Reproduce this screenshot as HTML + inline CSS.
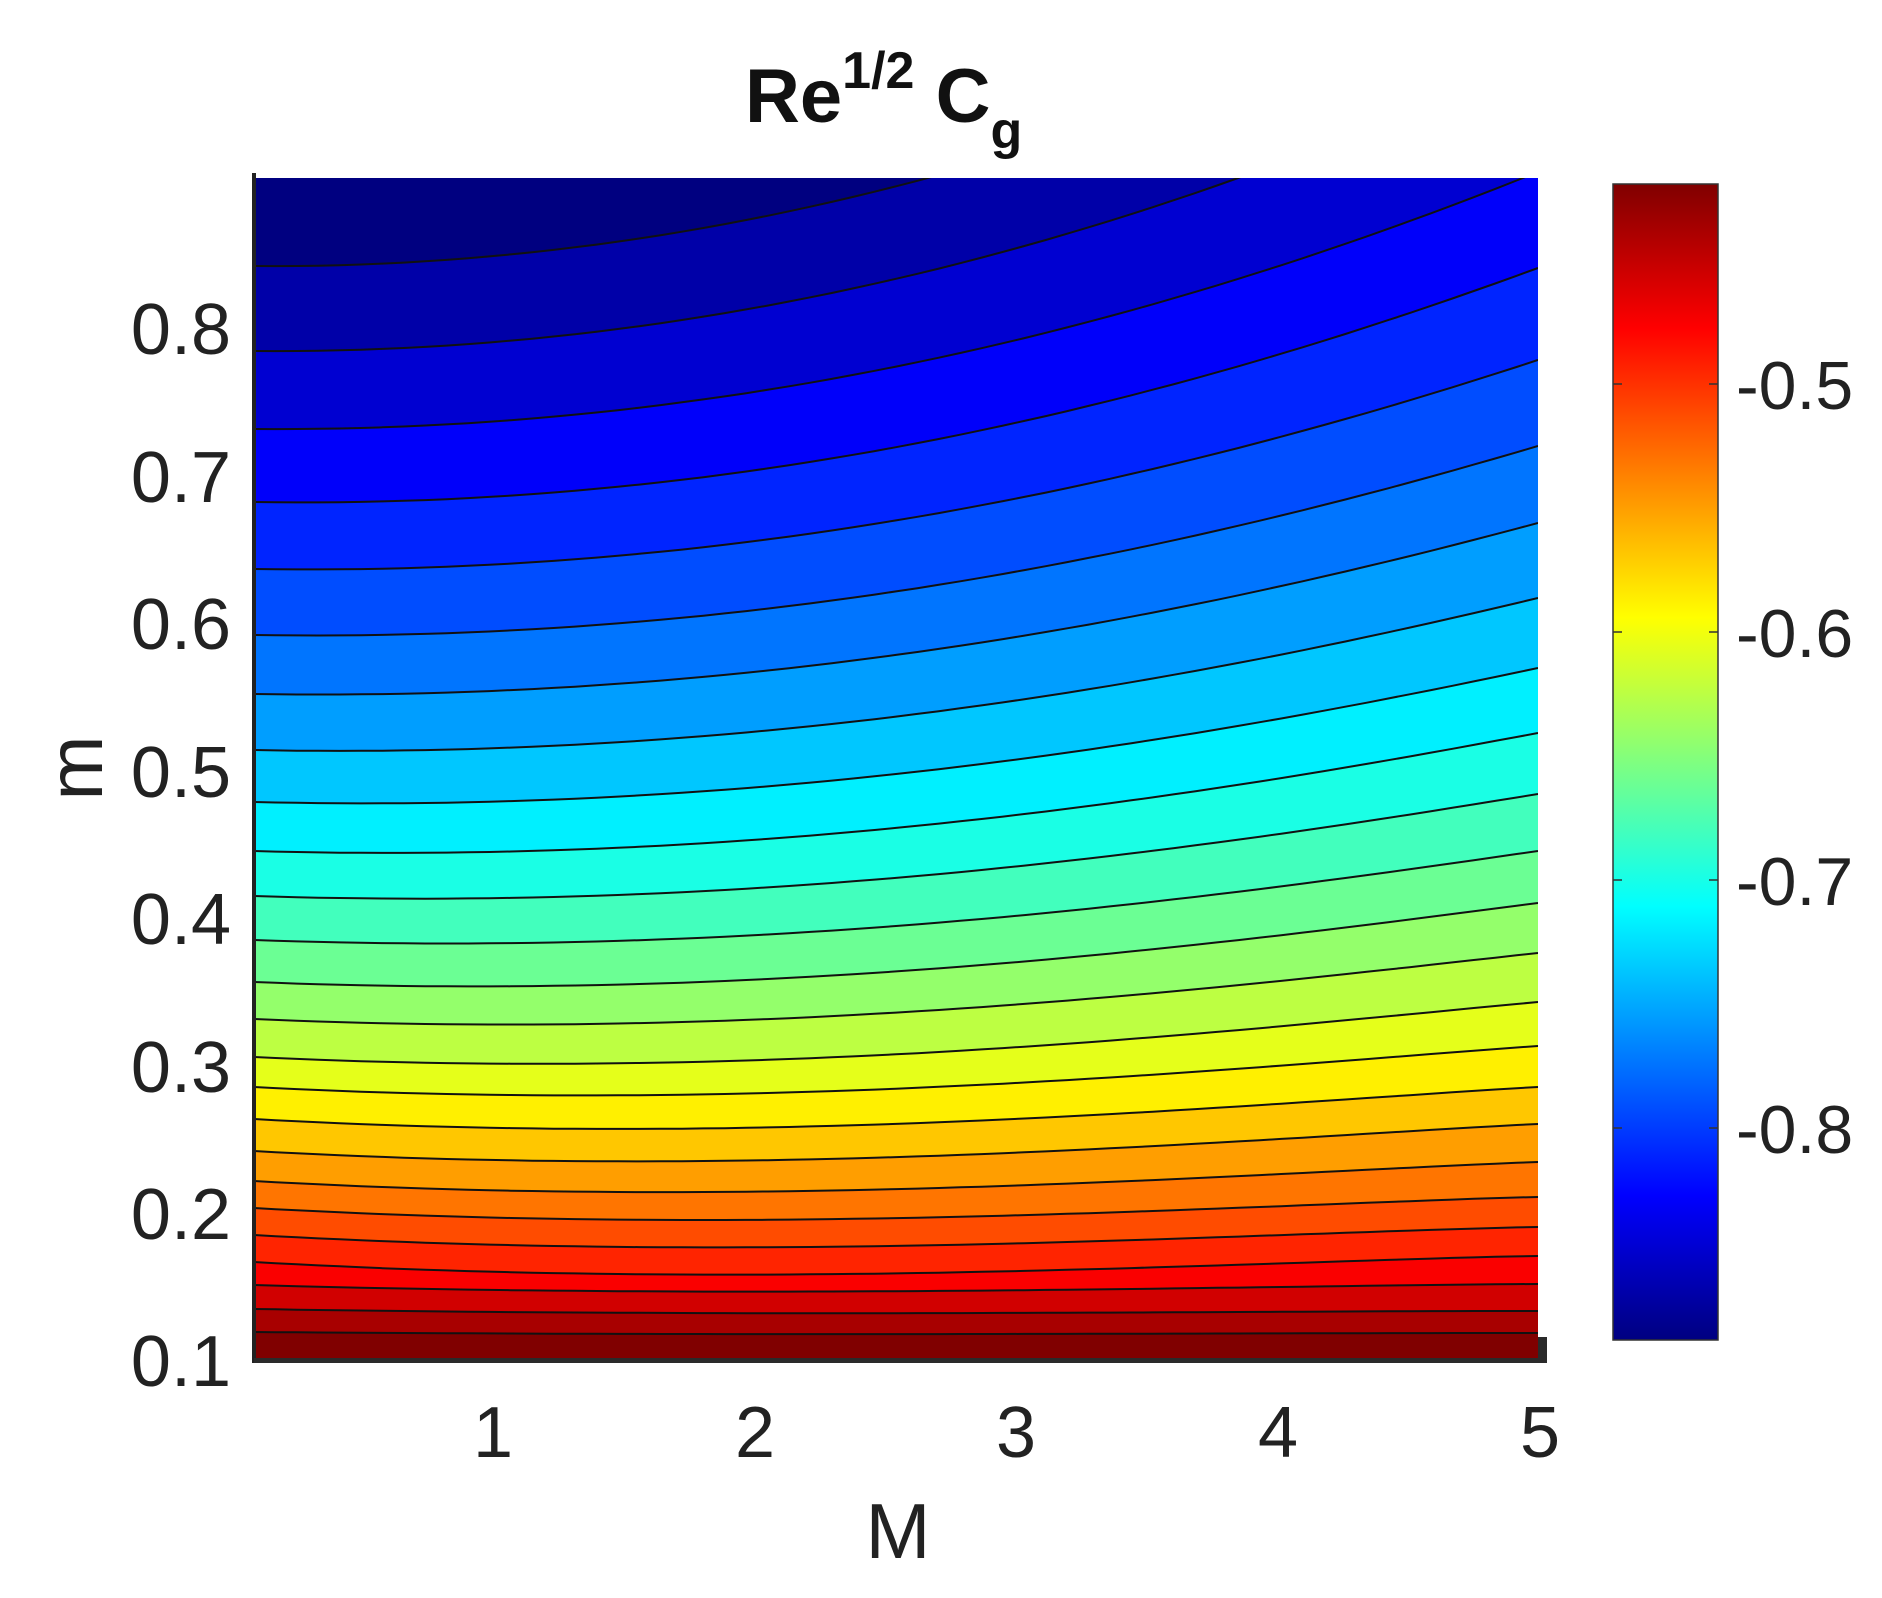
<!DOCTYPE html>
<html><head><meta charset="utf-8">
<style>
html,body{margin:0;padding:0;background:#fff;}
body{width:1882px;height:1598px;overflow:hidden;position:relative;font-family:"Liberation Sans",Arial,sans-serif;}
svg{position:absolute;left:0;top:0;}
</style></head>
<body>
<svg id="s" width="1882" height="1598" viewBox="0 0 1882 1598" xmlns="http://www.w3.org/2000/svg">
<defs>
<clipPath id="pc"><rect x="254" y="178" width="1284" height="1184"/></clipPath>
<linearGradient id="jet" x1="0" y1="1" x2="0" y2="0">
<stop offset="0" stop-color="#000080"/>
<stop offset="0.125" stop-color="#0000ff"/>
<stop offset="0.375" stop-color="#00ffff"/>
<stop offset="0.625" stop-color="#ffff00"/>
<stop offset="0.875" stop-color="#ff0000"/>
<stop offset="1" stop-color="#800000"/>
</linearGradient>
</defs>
<g id="plot" clip-path="url(#pc)"></g>
<rect x="252" y="173" width="4" height="1190" fill="#222"/>
<rect x="254" y="1358" width="1293" height="5" fill="#2a2a2a"/>
<rect x="1538" y="1337" width="9" height="26" fill="#2a2a2a"/>
<!-- colorbar -->
<rect x="1613" y="184" width="105" height="1156" fill="url(#jet)" stroke="#333" stroke-width="1.5"/>
<g stroke="#333" stroke-width="1.5">
<line x1="1613" y1="384" x2="1622" y2="384"/><line x1="1718" y1="384" x2="1709" y2="384"/>
<line x1="1613" y1="632" x2="1622" y2="632"/><line x1="1718" y1="632" x2="1709" y2="632"/>
<line x1="1613" y1="880" x2="1622" y2="880"/><line x1="1718" y1="880" x2="1709" y2="880"/>
<line x1="1613" y1="1128" x2="1622" y2="1128"/><line x1="1718" y1="1128" x2="1709" y2="1128"/>
</g>
<g font-family="Liberation Sans, Arial, sans-serif" font-size="68" fill="#222">
<text x="1736" y="409">-0.5</text>
<text x="1736" y="657">-0.6</text>
<text x="1736" y="905">-0.7</text>
<text x="1736" y="1153">-0.8</text>
</g>
<g font-family="Liberation Sans, Arial, sans-serif" font-size="72" fill="#222" text-anchor="end">
<text x="231" y="354">0.8</text>
<text x="231" y="502">0.7</text>
<text x="231" y="649">0.6</text>
<text x="231" y="797">0.5</text>
<text x="231" y="944">0.4</text>
<text x="231" y="1092">0.3</text>
<text x="231" y="1239">0.2</text>
<text x="231" y="1386">0.1</text>
</g>
<g font-family="Liberation Sans, Arial, sans-serif" font-size="72" fill="#222" text-anchor="middle">
<text x="493" y="1457">1</text>
<text x="755" y="1457">2</text>
<text x="1016" y="1457">3</text>
<text x="1278" y="1457">4</text>
<text x="1540" y="1457">5</text>
<text x="898" y="1558" font-size="78">M</text>
<text transform="translate(102,768) rotate(-90)" font-size="78">m</text>
</g>
<text x="745" y="122" font-family="Liberation Sans, Arial, sans-serif" font-weight="bold" font-size="76" fill="#111">Re<tspan font-size="52" dy="-34">1/2</tspan><tspan dy="34"> C</tspan><tspan font-size="52" dy="26">g</tspan></text>
</svg>
<script>
(function(){
var L=[266,351,429,502,569,635,694,750,802,851,896,940,982,1019,1057,1087,1119,1151,1181,1208,1235,1262,1285,1309,1332];
var R=[-60,55,172,268,360,446,523,598,668,733,794,851,903,953,1002,1046,1087,1124,1162,1197,1227,1256,1284,1311,1333];
function jet(v){function c(x){return Math.max(0,Math.min(1,x));}
var r=c(1.5-Math.abs(4*v-3)),g=c(1.5-Math.abs(4*v-2)),b=c(1.5-Math.abs(4*v-1));
return "rgb("+Math.round(r*255)+","+Math.round(g*255)+","+Math.round(b*255)+")";}
function dip(k){var d;if(k<3)d=2;else d=4+10*Math.max(0,Math.min(1,(k-6)/10));
if(k==22)d=7;if(k==23)d=4;if(k==24)d=2;return d;}
var x0=254,w=1284,N=60,ns="http://www.w3.org/2000/svg",g=document.getElementById("plot");
function pts(k){var a=[];for(var i=0;i<=N;i++){var t=i/N;var y=L[k]+(R[k]-L[k])*t*t+dip(k)*5.2*t*Math.pow(1-t,1.5);a.push([x0+w*t,y]);}return a;}
var nb=L.length;
var r0=document.createElementNS(ns,"rect");r0.setAttribute("x",250);r0.setAttribute("y",170);r0.setAttribute("width",1300);r0.setAttribute("height",1200);r0.setAttribute("fill",jet(0));g.appendChild(r0);
var lines=[];
for(var k=0;k<nb;k++){var p=pts(k);lines.push(p);
var d="M"+(x0-5)+","+p[0][1];for(var i=0;i<p.length;i++)d+=" L"+p[i][0].toFixed(1)+","+p[i][1].toFixed(1);
d+=" L"+(x0+w+10)+","+p[p.length-1][1]+" L"+(x0+w+10)+",1370 L"+(x0-5)+",1370 Z";
var e=document.createElementNS(ns,"path");e.setAttribute("d",d);e.setAttribute("fill",jet((k+1)/nb));g.appendChild(e);}
for(var k=0;k<nb;k++){var p=lines[k];var d="M"+p[0][0]+","+p[0][1];for(var i=1;i<p.length;i++)d+=" L"+p[i][0].toFixed(1)+","+p[i][1].toFixed(1);
var e=document.createElementNS(ns,"path");e.setAttribute("d",d);e.setAttribute("fill","none");e.setAttribute("stroke","#111");e.setAttribute("stroke-width","2");g.appendChild(e);}
})();
</script>
</body></html>
